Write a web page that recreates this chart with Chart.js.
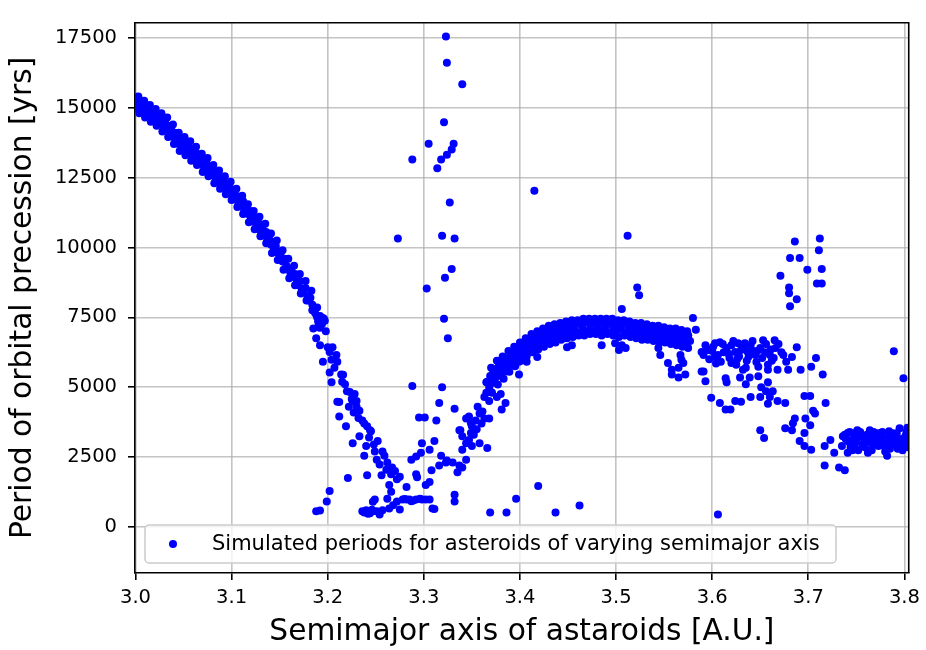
<!DOCTYPE html>
<html>
<head>
<meta charset="utf-8">
<script src="https://cdn.jsdelivr.net/npm/chart.js@4.4.1/dist/chart.umd.min.js"></script>
<style>
  body { margin: 0; background: #fff; }
  canvas { display: block; }
</style>
</head>
<body>
<canvas id="precessionChart" width="926" height="650"></canvas>
<script>
// Axis ticks
const xTicks = [3.0, 3.1, 3.2, 3.3, 3.4, 3.5, 3.6, 3.7, 3.8];
const yTicks = [0, 2500, 5000, 7500, 10000, 12500, 15000, 17500];

// Simulated points, [semimajor axis (A.U.), precession period (yrs)]
const innerBelt = [
    [3.000,15300],[3.001,15000],[3.002,15150],[3.004,15050],[3.005,15200],[3.007,14950],[3.008,15100],
    [3.010,14900],[3.011,15050],[3.013,14800],[3.014,14950],[3.016,14700],[3.018,14850],[3.019,14650],
    [3.021,14750],[3.022,14550],[3.024,14650],[3.026,14450],[3.027,14600],[3.029,14350],[3.031,14450],
    [3.032,14250],[3.034,14350],[3.036,14100],[3.037,14250],[3.039,13950],[3.041,14100],[3.042,13850],
    [3.044,13950],[3.045,13700],[3.047,13850],[3.049,13600],[3.050,13800],[3.052,13550],[3.054,13650],
    [3.055,13400],[3.057,13550],[3.059,13300],[3.060,13450],[3.062,13250],[3.064,13350],[3.065,13100],
    [3.067,13250],[3.069,12950],[3.071,13100],[3.072,12850],[3.074,13000],[3.076,12750],[3.078,12850],
    [3.079,12600],[3.081,12750],[3.083,12500],[3.084,12600],[3.086,12350],[3.088,12500],[3.089,12250],
    [3.091,12400],[3.093,12150],[3.095,12250],[3.096,12000],[3.098,12150],[3.100,11900],[3.101,12050],
    [3.103,11750],[3.105,11850],[3.107,11600],[3.108,11750],[3.110,11500],[3.112,11650],[3.113,11350],
    [3.115,11450],[3.117,11200],[3.119,11300],[3.120,11050],[3.122,11150],[3.124,10900],[3.125,11000],
    [3.127,10750],[3.129,10850],[3.130,10600],[3.132,10700],[3.134,10450],[3.136,10550],[3.137,10300],
    [3.139,10400],[3.141,10100],[3.142,10200],[3.144,9950],[3.146,10050],[3.148,9800],[3.150,9650],
    [3.151,9800],[3.153,9500],[3.155,9600],[3.157,9350],[3.159,9250],[3.161,9100],[3.162,9200],
    [3.164,8950],[3.166,9050],[3.168,8800],[3.170,8650],[3.171,8800],[3.173,8500],[3.175,8400],
    [3.177,8550],[3.179,8250],[3.180,8100],[3.182,8200],[3.184,7950],[3.186,7800],[3.187,7650],
    [3.189,7500],[3.190,7350],[3.192,7550],[3.194,7250],[3.196,7450],[3.198,7000]
];

// outer edges of the same belt, which is thicker than a single row of points
const innerBeltEdges = [
    [3.003,15400],[3.004,14800],[3.009,15250],[3.010,14650],[3.015,15100],[3.016,14500],
    [3.021,14950],[3.022,14350],[3.027,14800],[3.028,14150],[3.033,14650],[3.034,13950],
    [3.039,14400],[3.040,13700],[3.045,14100],[3.046,13450],[3.051,13950],[3.052,13300],
    [3.057,13800],[3.058,13100],[3.063,13600],[3.064,12950],[3.069,13350],[3.070,12700],
    [3.075,13200],[3.076,12550],[3.081,12950],[3.082,12300],[3.087,12750],[3.088,12100],
    [3.093,12550],[3.094,11900],[3.099,12350],[3.100,11700],[3.105,12100],[3.106,11450],
    [3.111,11850],[3.112,11200],[3.117,11550],[3.118,10900],[3.123,11300],[3.124,10650],
    [3.129,11100],[3.130,10400],[3.135,10850],[3.136,10150],[3.141,10500],[3.142,9800],
    [3.147,10250],[3.148,9550],[3.153,9900],[3.154,9200],[3.159,9600],[3.160,8900],
    [3.165,9350],[3.166,8650],[3.171,9050],[3.172,8350],[3.177,8800],[3.178,8100],
    [3.183,8450],[3.184,7750],[3.189,7850],[3.190,7150]
];

const descent = [
    [3.195,7480],[3.197,7380],[3.185,7100],[3.192,7130],[3.188,6750],[3.192,6500],[3.200,6430],
    [3.205,6430],[3.202,6260],[3.209,6150],[3.195,5910],[3.204,5980],[3.210,5910],[3.202,5530],
    [3.214,5460],[3.204,5180],[3.218,5110],[3.220,4860],[3.223,4830],[3.228,4760],[3.225,4580],
    [3.230,4510],[3.210,4480],[3.230,4300],[3.233,4160],[3.212,3950],[3.236,3810],[3.219,3600],
    [3.241,3600],[3.245,3430],[3.233,3250],[3.252,3080],[3.226,3000],[3.240,2900],[3.238,2550],
    [3.251,2410],[3.259,2550],[3.254,2240],[3.262,2310],[3.267,2130],[3.256,1850],[3.266,1890],
    [3.272,1710],[3.264,1500],[3.266,1260],[3.282,1430],[3.221,1750],[3.241,1850],[3.244,3460],
    [3.216,5450],[3.226,4500],[3.212,4470],[3.207,5700],[3.215,5200],[3.222,4300],[3.227,4100],
    [3.232,3900],[3.238,3700],[3.243,3200],[3.248,2950],[3.249,2700],[3.257,2700],[3.261,2050],
    [3.270,2000],[3.275,1800]
];

const gapFloor = [
    [3.188,560],[3.192,590],[3.199,910],[3.202,1290],[3.236,560],[3.240,600],[3.244,490],[3.247,560],
    [3.251,560],[3.254,450],[3.249,980],[3.247,900],[3.264,660],[3.262,1010],[3.272,910],[3.275,630],
    [3.278,980],[3.282,980],[3.285,980],[3.289,950],[3.292,980],[3.296,1010],[3.298,980],[3.302,980],
    [3.306,980],[3.309,660],[3.311,640],[3.268,780],[3.257,600],[3.280,1000],[3.287,920],[3.238,520],
    [3.242,470],[3.246,620]
];

const gapRise = [
    [3.288,5040],[3.319,5000],[3.316,4440],[3.332,4230],[3.295,3920],[3.301,3920],[3.313,3810],
    [3.337,3460],[3.298,3000],[3.311,3080],[3.318,2550],[3.324,2380],[3.287,2410],[3.292,2520],
    [3.297,2660],[3.306,2760],[3.316,2200],[3.308,2030],[3.292,1890],[3.293,1780],[3.302,1500],
    [3.306,1610],[3.332,1150],[3.332,910],[3.330,2310],[3.337,2200],[3.335,1960],[3.340,2130],
    [3.344,2410],[3.340,2760],[3.344,3000],[3.340,3250],[3.347,3110],[3.350,2900],[3.349,3360],
    [3.344,3880],[3.347,3950],[3.354,3810],[3.350,3600],[3.358,3000],[3.358,4060],[3.356,4300],
    [3.363,3880],[3.368,3880],[3.366,2830],[3.361,4130],[3.363,4650],[3.368,4510],[3.370,4830],
    [3.365,5180],[3.368,5210],[3.371,5390],[3.376,4650],[3.380,4760],[3.381,4200],[3.385,4440],
    [3.349,3710],[3.338,3460],[3.323,2310],[3.352,3300],[3.355,3500],[3.360,3700]
];

const lowOutliers = [
    [3.369,520],[3.386,520],[3.396,1010],[3.419,1470],[3.437,520],[3.462,770],[3.606,450]
];

const highSpikes = [
    [3.323,17550],[3.324,16610],[3.340,15840],[3.321,14480],[3.305,13710],[3.331,13710],[3.329,13500],
    [3.324,13320],[3.288,13150],[3.318,13150],[3.314,12830],[3.327,11610],[3.273,10320],[3.319,10420],
    [3.332,10320],[3.329,9230],[3.322,8920],[3.303,8530],[3.321,7450],[3.325,6750],[3.415,12030],
    [3.512,10420],[3.522,8570],[3.524,8290],[3.506,7800]
];

const outerArch = [
    [3.365,4800],[3.366,5200],[3.368,5000],[3.369,5400],[3.371,5150],[3.372,5500],[3.374,5300],
    [3.375,5650],[3.377,5400],[3.378,5750],[3.380,5500],[3.381,5850],[3.383,5650],[3.384,5950],
    [3.386,5700],[3.388,6050],[3.389,5800],[3.391,6150],[3.393,5900],[3.394,6250],[3.396,6000],
    [3.398,6350],[3.399,6100],[3.401,6450],[3.403,6200],[3.405,6550],[3.406,6300],[3.408,6650],
    [3.410,6400],[3.412,6700],[3.413,6450],[3.415,6750],[3.417,6550],[3.419,6850],[3.420,6600],
    [3.422,6900],[3.424,6650],[3.426,6950],[3.427,6700],[3.429,7000],[3.431,6750],[3.433,7050],
    [3.435,6800],[3.437,7100],[3.438,6850],[3.440,7150],[3.442,6900],[3.444,7150],[3.446,6950],
    [3.448,7200],[3.450,6950],[3.452,7250],[3.453,7000],[3.455,7250],[3.457,7050],[3.459,7300],
    [3.461,6950],[3.463,7250],[3.465,7100],[3.467,7300],[3.469,7000],[3.471,7350],[3.473,7100],
    [3.475,7300],[3.477,6950],[3.479,7350],[3.481,7150],[3.483,7300],[3.485,7000],[3.487,7350],
    [3.489,7150],[3.491,7300],[3.493,6950],[3.495,7350],[3.497,7150],[3.499,7300],[3.501,7000],
    [3.503,7250],[3.505,7100],[3.507,7350],[3.509,6950],[3.511,7250],[3.513,7050],[3.515,7300],
    [3.517,6950],[3.519,7200],[3.521,7000],[3.523,7250],[3.525,6900],[3.527,7150],[3.529,6950],
    [3.531,7200],[3.533,6850],[3.535,7100],[3.537,6900],[3.539,7150],[3.541,6800],[3.543,7050],
    [3.545,6850],[3.547,7100],[3.549,6750],[3.551,7000],[3.553,6800],[3.555,7050],[3.557,6700],
    [3.559,6950],[3.561,6750],[3.563,7000],[3.565,6650],[3.567,6900],[3.569,6700],[3.571,6950],
    [3.573,6600],[3.575,6850],[3.577,6650],
    [3.449,6430],[3.418,6080],[3.407,5910],[3.399,5460],[3.485,6500],[3.506,6500],[3.503,6330],
    [3.510,6400],[3.454,6500],[3.499,6570],[3.409,6260],[3.401,6150],[3.392,5800],[3.389,5980],
    [3.378,5700],[3.385,5560],[3.399,5910],[3.423,6610],[3.433,6750],
    [3.544,6400],[3.546,6150],[3.554,5870],[3.558,5630],[3.565,5700],[3.567,6150],[3.568,5980],
    [3.572,5460],[3.565,5350],[3.558,5460],[3.570,5870],[3.580,7480],[3.583,7060],[3.575,6850]
];

// upper and lower edges of the arch
const outerArchEdges = [
    [3.370,5700],[3.371,4800],[3.376,5950],[3.377,5100],[3.382,6100],[3.383,5300],
    [3.388,6300],[3.389,5550],[3.394,6450],[3.395,5750],[3.400,6600],[3.401,5950],
    [3.406,6750],[3.407,6100],[3.412,6900],[3.413,6250],[3.418,7000],[3.419,6350],
    [3.424,7100],[3.425,6450],[3.430,7200],[3.431,6550],[3.436,7250],[3.437,6600],
    [3.442,7300],[3.443,6700],[3.448,7350],[3.449,6750],[3.454,7400],[3.455,6800],
    [3.460,7400],[3.461,6850],[3.466,7450],[3.467,6850],[3.472,7450],[3.473,6900],
    [3.478,7450],[3.479,6900],[3.484,7450],[3.485,6850],[3.490,7450],[3.491,6900],
    [3.496,7450],[3.497,6850],[3.502,7400],[3.503,6800],[3.508,7400],[3.509,6850],
    [3.514,7350],[3.515,6800],[3.520,7300],[3.521,6750],[3.526,7300],[3.527,6700],
    [3.532,7250],[3.533,6700],[3.538,7200],[3.539,6650],[3.544,7200],[3.545,6600],
    [3.550,7150],[3.551,6600],[3.556,7100],[3.557,6550],[3.562,7100],[3.563,6500],
    [3.568,7050],[3.569,6450],[3.574,7000],[3.575,6400]
];

const outerScatter = [
    [3.589,6260],[3.591,5560],[3.593,5210],[3.593,6500],[3.591,6150],[3.596,6330],[3.603,6570],
    [3.608,6610],[3.606,6150],[3.609,5910],[3.615,6400],[3.620,6500],[3.624,6260],[3.620,5870],
    [3.627,6570],[3.630,6330],[3.634,6570],[3.637,6260],[3.640,6500],[3.645,6150],[3.650,6400],
    [3.653,6680],[3.665,6680],[3.666,6400],[3.660,6150],[3.658,5800],[3.648,5730],[3.635,5700],
    [3.632,5630],[3.629,5350],[3.639,5350],[3.648,5390],[3.658,5630],[3.668,5630],[3.674,6150],
    [3.677,5910],[3.683,6080],[3.688,6430],[3.679,5630],[3.692,5630],[3.703,5730],[3.708,6050],
    [3.715,5460],[3.589,5560],[3.614,5320],[3.615,5180],[3.635,5110],[3.651,5000],[3.658,5180],
    [3.663,4860],[3.656,4860],[3.650,4650],[3.660,4650],[3.640,4650],[3.658,4410],[3.668,4510],
    [3.676,4440],[3.599,4620],[3.608,4440],[3.614,4200],[3.619,4200],[3.624,4510],[3.630,4480],
    [3.696,4690],[3.702,4690],[3.718,4440],[3.705,4160],[3.707,4060],[3.686,3880],[3.684,3710],
    [3.676,3530],[3.683,3460],[3.697,3880],[3.702,3640],[3.696,3360],[3.691,3080],[3.696,2900],
    [3.703,2760],[3.650,3460],[3.654,3180],[3.612,6250],[3.618,6050],[3.626,6000],[3.643,6300],
    [3.655,6250],[3.600,6300],[3.662,5950],[3.646,5900],
    [3.597,6000],[3.601,6450],[3.604,5850],[3.611,6550],[3.617,6200],[3.622,6650],[3.628,6100],
    [3.633,6450],[3.636,5950],[3.642,6650],[3.647,6300],[3.652,6050],[3.656,6550],[3.661,6350],
    [3.664,6050],[3.669,6550],[3.672,6250],[3.603,6100],[3.625,5800],[3.638,6100],
    [3.712,10320],[3.711,9900],[3.686,10210],[3.681,9620],[3.691,9620],[3.671,8990],[3.699,9200],
    [3.714,9230],[3.680,8570],[3.680,8360],[3.688,8150],[3.709,8710],[3.714,8710],[3.681,7900]
];

const farBelt = [
    [3.717,2900],[3.717,2200],[3.723,3110],[3.727,2660],[3.732,2130],[3.738,2030],[3.736,3250],
    [3.741,3360],[3.745,3110],[3.741,2660],[3.748,2900],[3.751,3460],[3.755,3250],[3.758,3000],
    [3.762,2660],[3.764,3460],[3.769,3290],[3.772,3080],[3.775,3360],[3.779,2900],[3.782,2550],
    [3.784,3430],[3.790,3180],[3.795,3530],[3.796,2900],[3.801,3250],[3.803,3000],
    [3.738,3300],[3.742,3050],[3.744,2850],[3.747,3350],[3.750,3150],[3.752,2750],[3.754,3400],
    [3.757,3200],[3.759,2850],[3.761,3300],[3.763,3050],[3.766,2750],[3.768,3400],[3.770,3150],
    [3.773,2900],[3.776,3250],[3.778,3050],[3.780,2700],[3.783,3200],[3.786,2950],[3.788,3350],
    [3.791,3000],[3.793,2800],[3.797,3150],[3.799,2950],[3.802,3400],
    [3.735,2900],[3.739,3150],[3.743,3400],[3.746,2750],[3.749,3050],[3.753,3250],[3.756,2950],
    [3.760,3100],[3.765,3250],[3.767,2950],[3.771,3350],[3.774,3000],[3.777,3400],[3.781,3050],
    [3.785,2800],[3.787,3100],[3.792,3350],[3.794,3100],[3.798,2750],[3.800,3150],[3.804,2850],
    [3.803,3550],
    [3.789,6290],[3.799,5320]
];

const seriesLabel = 'Simulated periods for asteroids of varying semimajor axis';
const pointColor = '#0000ff';
const fontFamily = '"DejaVu Sans", "Liberation Sans", sans-serif';

const allPoints = [].concat(innerBelt, innerBeltEdges, descent, gapFloor, gapRise, lowOutliers,
                            highSpikes, outerArch, outerArchEdges, outerScatter, farBelt)
    .map(p => ({ x: p[0], y: p[1] }));

// Legend drawn inside the plot, bottom left, matplotlib style
const insideLegend = {
    id: 'insideLegend',
    afterDatasetsDraw(chart) {
        const { ctx, chartArea } = chart;
        const x = chartArea.left + 10;
        const y = chartArea.bottom - 48;
        const w = 691, h = 38;
        ctx.save();
        ctx.beginPath();
        ctx.roundRect(x, y, w, h, 4);
        ctx.fillStyle = 'rgba(255,255,255,0.8)';
        ctx.fill();
        ctx.strokeStyle = '#cccccc';
        ctx.lineWidth = 1.5;
        ctx.stroke();
        ctx.fillStyle = pointColor;
        ctx.beginPath();
        ctx.arc(x + 28, y + h / 2, 4, 0, Math.PI * 2);
        ctx.fill();
        ctx.fillStyle = '#000';
        ctx.font = '21px ' + fontFamily;
        ctx.textBaseline = 'middle';
        ctx.fillText(chart.data.datasets[0].label, x + 67, y + h / 2 + 1);
        ctx.restore();
    }
};

// Top and right spines
const frame = {
    id: 'frame',
    afterDraw(chart) {
        const { ctx, chartArea: a } = chart;
        ctx.save();
        ctx.strokeStyle = '#000';
        ctx.lineWidth = 1.6;
        ctx.beginPath();
        ctx.moveTo(a.left, a.top);
        ctx.lineTo(a.right, a.top);
        ctx.lineTo(a.right, a.bottom);
        ctx.stroke();
        ctx.restore();
    }
};

Chart.defaults.font.family = fontFamily;
Chart.defaults.color = '#000';

new Chart(document.getElementById('precessionChart').getContext('2d'), {
    type: 'scatter',
    data: {
        datasets: [{
            label: seriesLabel,
            data: allPoints,
            pointRadius: 4,
            pointHoverRadius: 4,
            pointBackgroundColor: pointColor,
            pointBorderWidth: 0,
            clip: 0
        }]
    },
    options: {
        responsive: false,
        animation: false,
        events: [],
        layout: { padding: { left: 0, right: 15, top: 10, bottom: 0 } },
        plugins: {
            legend: { display: false },
            tooltip: { enabled: false }
        },
        scales: {
            x: {
                type: 'linear',
                min: 2.9995,
                max: 3.8045,
                afterBuildTicks: scale => { scale.ticks = xTicks.map(v => ({ value: v })); },
                afterFit: scale => { scale.height = 77; },
                ticks: {
                    autoSkip: false,
                    maxRotation: 0,
                    padding: 6,
                    color: '#000',
                    font: { size: 19.5 },
                    callback: v => v.toFixed(1)
                },
                grid: {
                    color: 'rgba(176,176,176,0.75)',
                    lineWidth: 1.6,
                    tickLength: 7,
                    tickColor: '#000',
                    tickWidth: 1.6
                },
                border: { color: '#000', width: 1.6 },
                title: {
                    display: true,
                    text: 'Semimajor axis of astaroids [A.U.]',
                    color: '#000',
                    font: { size: 29.7 },
                    padding: { top: 0, bottom: 0 }
                }
            },
            y: {
                type: 'linear',
                min: -1645,
                max: 18040,
                afterBuildTicks: scale => { scale.ticks = yTicks.map(v => ({ value: v })); },
                afterFit: scale => { scale.width = 135; },
                ticks: {
                    autoSkip: false,
                    padding: 11,
                    color: '#000',
                    font: { size: 19.5 },
                    callback: v => String(v)
                },
                grid: {
                    color: 'rgba(176,176,176,0.75)',
                    lineWidth: 1.6,
                    tickLength: 7,
                    tickColor: '#000',
                    tickWidth: 1.6
                },
                border: { color: '#000', width: 1.6 },
                title: {
                    display: true,
                    text: 'Period of orbital precession [yrs]',
                    color: '#000',
                    font: { size: 29.7 },
                    padding: { top: 5, bottom: 0 }
                }
            }
        }
    },
    plugins: [insideLegend, frame]
});
</script>
</body>
</html>
